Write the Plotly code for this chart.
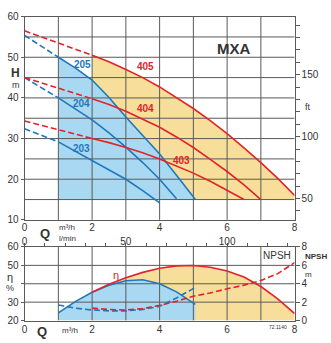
import plotly.graph_objects as go

# ---------------- data ----------------
# Upper chart: head H [m] vs flow Q [m3/h]
q205 = [0, 0.5, 1, 1.5, 2, 2.5, 3, 3.5, 4, 4.5, 5.06]
h205 = [55.4, 52.8, 50.0, 47.4, 44.4, 40.1, 35.3, 30.8, 26.2, 21.0, 15.0]
q204 = [0, 0.5, 1, 1.5, 2, 2.5, 3, 3.5, 4, 4.5]
h204 = [45.0, 42.5, 40.0, 37.4, 34.6, 31.4, 27.9, 24.1, 20.0, 15.2]
q203 = [0, 0.5, 1, 1.5, 2, 2.5, 3, 3.5, 4]
h203 = [32.4, 30.8, 29.2, 26.9, 24.4, 22.2, 20.0, 17.2, 14.2]
q405 = [0, 0.5, 1, 1.5, 2, 2.5, 3, 3.5, 4, 4.5, 5, 5.5, 6, 6.5, 7, 7.5, 8]
h405 = [56.5, 55.0, 53.5, 52.0, 50.5, 48.9, 47.0, 45.0, 42.7, 40.1, 37.4, 34.4, 31.2, 27.7, 24.1, 20.2, 16.0]
q404 = [0, 0.5, 1, 1.5, 2, 2.5, 3, 3.5, 4, 4.5, 5, 5.5, 6, 6.5, 7]
h404 = [45.0, 43.7, 42.4, 41.1, 39.8, 38.4, 36.7, 34.8, 32.8, 30.4, 27.8, 24.9, 21.9, 18.6, 15.0]
q403 = [0, 0.5, 1, 1.5, 2, 2.5, 3, 3.5, 4, 4.5, 5, 5.5, 6, 6.5]
h403 = [34.3, 33.3, 32.2, 31.1, 30.0, 29.0, 27.8, 26.5, 25.0, 23.3, 21.5, 19.5, 17.3, 15.0]
start20 = 1.0   # solid part of 20x curves begins here
start40 = 2.0   # solid part of 40x curves begins here
h_floor = 15.0

# Lower chart: efficiency [%] and NPSH [m]
q_eta20 = [1, 1.5, 2, 2.5, 3, 3.5, 4, 4.5, 5.06]
eta20 = [24.2, 30.3, 35.4, 39.2, 41.6, 42.2, 40.0, 35.6, 28.8]
q_eta40 = [2, 2.5, 3, 3.5, 4, 4.5, 5, 5.5, 6, 6.5, 7, 7.5, 8]
eta40 = [35.4, 39.8, 43.3, 46.2, 48.4, 49.7, 49.9, 49.0, 46.9, 43.7, 38.5, 31.8, 23.8]
q_npsh20 = [1, 1.5, 2, 2.5, 3, 3.5, 4, 4.5, 5.06]
npsh20 = [1.7, 1.35, 1.15, 1.05, 1.05, 1.2, 1.55, 2.45, 3.6]
q_npsh40 = [2, 2.5, 3, 3.5, 4, 4.5, 5, 5.5, 6, 6.5, 7, 7.5, 8]
npsh40 = [1.35, 1.2, 1.15, 1.3, 1.65, 2.1, 2.65, 3.0, 3.45, 3.85, 4.35, 5.1, 6.3]

x_ticks = [0, 1, 2, 3, 4, 5, 6, 7, 8]
x_text = ['0', '', '2', '', '4', '', '6', '', '8']
h_ticks = [10, 20, 30, 40, 50, 60]
ft_ticks = list(range(40, 200, 10))
ft_text = [str(v) if v in (50, 100, 150) else '' for v in ft_ticks]
lmin_ticks = list(range(0, 140, 10))
lmin_text = [str(v) if v in (0, 50, 100) else '' for v in lmin_ticks]
eta_ticks = [20, 30, 40, 50, 60]
eta_text = ['20', '30', '', '50', '60']
npsh_ticks = [0, 2, 4, 6, 8]

# ---------------- styles ----------------
BLUE = '#1f77bd'
RED = '#e2232b'
BLUE_FILL = '#a9d9f2'
YEL_FILL = '#f7de9a'
GRID = '#5a5a5a'
TXT = '#333333'
FONT = 'Liberation Sans, Arial, sans-serif'
DASH = '6px,3px'

fig = go.Figure()


def split(q, h, s):
    dq = [a for a in q if a <= s]
    dh = h[:len(dq)]
    sq = [a for a in q if a >= s]
    sh = h[len(q) - len(sq):]
    return dq, dh, sq, sh


def add(**kw):
    kw.setdefault('showlegend', False)
    kw.setdefault('hoverinfo', 'skip')
    fig.add_trace(go.Scatter(**kw))


# ---- upper chart fills ----
d405 = split(q405, h405, start40)
add(x=[start40] + d405[2] + [d405[2][-1], start40],
    y=[h_floor] + d405[3] + [h_floor, h_floor],
    fill='toself', fillcolor=YEL_FILL, mode='lines', line=dict(width=0),
    xaxis='x', yaxis='y')
d205 = split(q205, h205, start20)
add(x=[start20] + d205[2] + [start20],
    y=[h_floor] + d205[3] + [h_floor],
    fill='toself', fillcolor=BLUE_FILL, mode='lines', line=dict(width=0),
    xaxis='x', yaxis='y')

# ---- upper chart grid ----
gx, gy = [], []
for v in range(1, 8):
    gx += [v, v, None]
    gy += [10, 60, None]
for v in range(15, 60, 5):
    gx += [0, 8, None]
    gy += [v, v, None]
add(x=gx, y=gy, mode='lines', line=dict(color=GRID, width=1), xaxis='x', yaxis='y')

# ---- upper chart curves ----
for q, h, s, c in [(q205, h205, start20, BLUE), (q204, h204, start20, BLUE),
                   (q203, h203, start20, BLUE), (q405, h405, start40, RED),
                   (q404, h404, start40, RED), (q403, h403, start40, RED)]:
    dq, dh, sq, sh = split(q, h, s)
    add(x=dq, y=dh, mode='lines', line=dict(color=c, width=1.6, dash=DASH), xaxis='x', yaxis='y')
    add(x=sq, y=sh, mode='lines', line=dict(color=c, width=1.6), xaxis='x', yaxis='y')

# dummy trace to activate the ft axis
add(x=[None], y=[None], mode='lines', xaxis='x', yaxis='y2')

# ---- lower chart fills ----
add(x=[q_eta40[0]] + q_eta40 + [q_eta40[-1]],
    y=[20] + eta40 + [20],
    fill='toself', fillcolor=YEL_FILL, mode='lines', line=dict(width=0),
    xaxis='x3', yaxis='y3')
add(x=[q_eta20[0]] + q_eta20 + [q_eta20[-1]],
    y=[20] + eta20 + [20],
    fill='toself', fillcolor=BLUE_FILL, mode='lines', line=dict(width=0),
    xaxis='x3', yaxis='y3')

# ---- lower chart grid ----
gx, gy = [], []
for v in range(1, 8):
    gx += [v, v, None]
    gy += [20, 60, None]
for v in (30, 40, 50):
    gx += [0, 8, None]
    gy += [v, v, None]
add(x=gx, y=gy, mode='lines', line=dict(color=GRID, width=1), xaxis='x3', yaxis='y3')

# ---- lower chart curves ----
add(x=q_npsh20, y=npsh20, mode='lines', line=dict(color=BLUE, width=1.6, dash=DASH), xaxis='x3', yaxis='y4')
add(x=q_npsh40, y=npsh40, mode='lines', line=dict(color=RED, width=1.6, dash=DASH), xaxis='x3', yaxis='y4')
add(x=q_eta20, y=eta20, mode='lines', line=dict(color=BLUE, width=1.6), xaxis='x3', yaxis='y3')
add(x=q_eta40, y=eta40, mode='lines', line=dict(color=RED, width=1.6), xaxis='x3', yaxis='y3')
add(x=[None], y=[None], mode='lines', xaxis='x4', yaxis='y3')

# ---------------- layout ----------------
W, H = 331, 343
dom_x = [22 / W, 297 / W]
dom_top = [1 - 222 / H, 1 - 12 / H]
dom_bot = [1 - 326 / H, 1 - 250 / H]
TF = dict(size=10, color=TXT, family=FONT)
ax_common = dict(showline=True, linecolor=GRID, linewidth=1, zeroline=False, showgrid=False,
                 tickfont=TF, fixedrange=True)

fig.update_layout(
    width=W, height=H, margin=dict(l=0, r=0, t=0, b=0),
    paper_bgcolor='white', plot_bgcolor='white', showlegend=False,
    font=dict(family=FONT, size=10, color=TXT),
    xaxis=dict(domain=dom_x, anchor='y', range=[0, 8], tickmode='array', tickvals=x_ticks,
               ticktext=x_text, ticks='', mirror=True, ticklabelstandoff=-2, **ax_common),
    yaxis=dict(domain=dom_top, anchor='x', range=[10, 60], tickmode='array', tickvals=h_ticks,
               ticks='outside', ticklen=3, tickcolor=GRID, mirror=True, **ax_common),
    yaxis2=dict(overlaying='y', side='right', anchor='x', range=[10 * 3.28084, 60 * 3.28084],
                tickmode='array', tickvals=ft_ticks, ticktext=ft_text, ticks='outside', ticklen=4,
                tickcolor=GRID, showline=False, zeroline=False, showgrid=False, tickfont=TF),
    xaxis3=dict(domain=dom_x, anchor='y3', range=[0, 8], tickmode='array', tickvals=x_ticks,
                ticktext=x_text, ticks='', mirror=True, ticklabelstandoff=-1, **ax_common),
    yaxis3=dict(domain=dom_bot, anchor='x3', range=[20, 60], tickmode='array', tickvals=eta_ticks,
                ticktext=eta_text, ticks='outside', ticklen=3, tickcolor=GRID, mirror=True,
                **ax_common),
    yaxis4=dict(overlaying='y3', side='right', anchor='x3', range=[0, 8], tickmode='array',
                tickvals=npsh_ticks, ticks='outside', ticklen=4, tickcolor=GRID, showline=False,
                zeroline=False, showgrid=False, tickfont=TF),
    xaxis4=dict(overlaying='x3', side='top', anchor='y3', range=[0, 8 * 1000 / 60], tickmode='array',
                tickvals=lmin_ticks, ticktext=lmin_text, ticks='outside', ticklen=3, tickcolor=GRID,
                showline=False, zeroline=False, showgrid=False, ticklabelstandoff=-6, tickfont=TF),
)


def px_ann(text, x, y, size=10, bold=False, color=TXT, xanchor='center'):
    fig.add_annotation(text=('<b>%s</b>' % text) if bold else text, x=x / W, y=1 - y / H,
                       xref='paper', yref='paper', showarrow=False, xanchor=xanchor, yanchor='middle',
                       font=dict(size=size, color=color, family=FONT))


def data_ann(text, x, y, color, xref='x', yref='y', size=10, bold=True):
    fig.add_annotation(text=('<b>%s</b>' % text) if bold else text, x=x, y=y, xref=xref, yref=yref,
                       showarrow=False, font=dict(size=size, color=color, family=FONT))


# curve labels
data_ann('205', 1.72, 48.1, BLUE)
data_ann('204', 1.69, 38.6, BLUE)
data_ann('203', 1.69, 27.5, BLUE)
data_ann('405', 3.58, 47.8, RED)
data_ann('404', 3.58, 37.3, RED)
data_ann('403', 4.65, 24.6, RED)
data_ann('η', 2.7, 44.7, RED, xref='x3', yref='y3', size=11, bold=False)
data_ann('NPSH', 7.47, 55.3, TXT, xref='x3', yref='y3', size=10, bold=False)

# axis titles / misc text
px_ann('MXA', 235, 45, size=15, bold=True)
px_ann('H', 13, 70, size=12, bold=True)
px_ann('m', 13, 83, size=9)
px_ann('ft', 311, 105, size=9)
px_ann('Q', 43, 236, size=13, bold=True)
px_ann('m³/h', 55, 230, size=8, xanchor='left')
px_ann('l/min', 55, 241, size=8, xanchor='left')
px_ann('η', 7, 281, size=11)
px_ann('%', 7, 292, size=9)
px_ann('Q', 40, 337, size=13, bold=True)
px_ann('m³/h', 58, 336, size=8, xanchor='left')
px_ann('NPSH', 319, 259.5, size=8, bold=True)
px_ann('m', 311, 278, size=8)
px_ann('72.1140', 280, 333, size=5)

fig.write_html('out.html')
